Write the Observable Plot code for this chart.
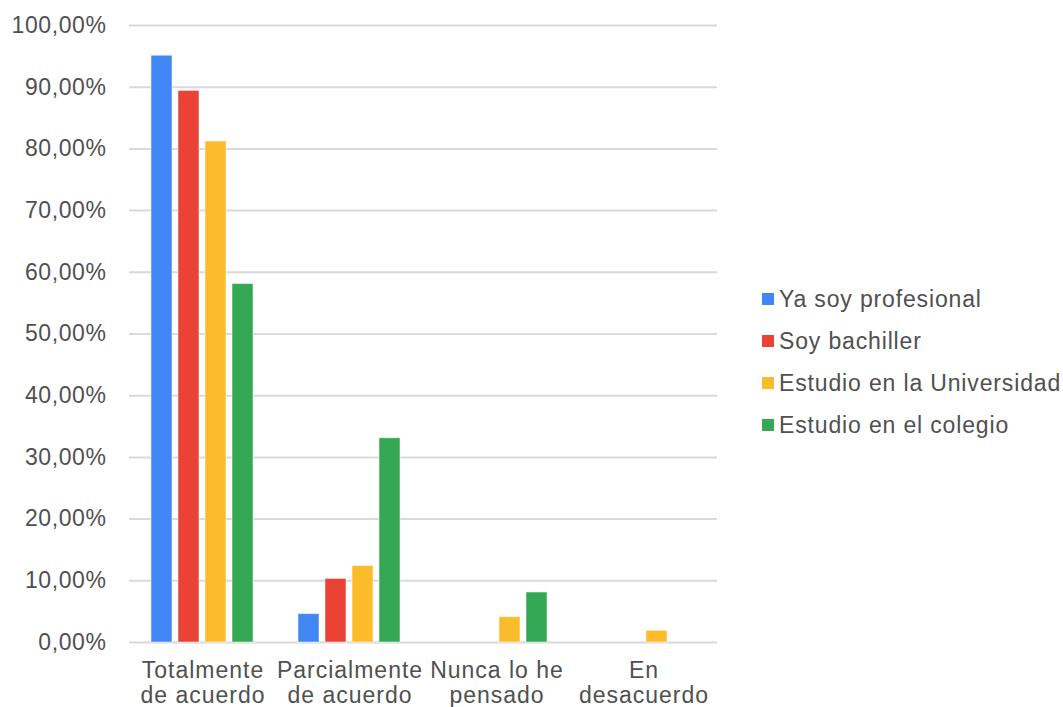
<!DOCTYPE html>
<html>
<head>
<meta charset="utf-8">
<script src="https://cdn.jsdelivr.net/npm/d3@7"></script>
<script src="https://cdn.jsdelivr.net/npm/@observablehq/plot@0.6"></script>
<style>
  html, body { margin: 0; padding: 0; background: #fff; }
  #wrap { position: relative; width: 1063px; height: 707px; font-family: "Liberation Sans", Arial, sans-serif; }
  #legend { position: absolute; left: 762px; top: 278px; color: #505050; font-size: 23px; letter-spacing: 0.85px; }
  #legend .item { display: flex; align-items: center; height: 42px; white-space: nowrap; }
  #legend .sw { width: 12px; height: 12px; margin-right: 5px; flex: none; }
  .fxaxis text { letter-spacing: 1px; }
</style>
</head>
<body>
<div id="wrap"><div id="chart"></div><div id="legend"></div></div>
<script>
const categories = ["Totalmente\nde acuerdo", "Parcialmente\nde acuerdo", "Nunca lo he\npensado", "En\ndesacuerdo"];
const series = ["Ya soy profesional", "Soy bachiller", "Estudio en la Universidad", "Estudio en el colegio"];
const colors = ["#4285F4", "#EA4335", "#FBBC2C", "#34A853"];
const profesional = [0.951, 0.046, 0, 0];
const bachiller = [0.894, 0.103, 0, 0];
const universidad = [0.812, 0.124, 0.041, 0.019];
const colegio = [0.581, 0.331, 0.081, 0];
const yTicks = [0, 0.1, 0.2, 0.3, 0.4, 0.5, 0.6, 0.7, 0.8, 0.9, 1.0];

const valuesBySeries = [profesional, bachiller, universidad, colegio];
const table = [];
series.forEach((s, i) => categories.forEach((c, j) => {
  const v = valuesBySeries[i][j];
  if (v > 0) table.push({category: c, series: s, value: v});
}));

const fmt = d => (d * 100).toFixed(2).replace(".", ",") + "%";

const chart = Plot.plot({
  width: 740,
  height: 707,
  marginLeft: 129,
  marginRight: 23,
  marginTop: 25,
  marginBottom: 65,
  style: {fontFamily: "Liberation Sans, Arial, sans-serif", fontSize: "23px", color: "#505050", background: "#fff", letterSpacing: "0.6px"},
  fx: {domain: categories, padding: 0, label: null},
  x: {domain: series, paddingInner: 0.22, paddingOuter: 0.83, axis: null},
  y: {domain: [0, 1], label: null},
  color: {domain: series, range: colors},
  marks: [
    Plot.ruleY(yTicks, {stroke: "#d9d9d9", strokeWidth: 2}),
    Plot.barY(table, {fx: "category", x: "series", y: "value", fill: "series", stroke: "#ffffff", strokeOpacity: 0.5, strokeWidth: 1}),
    Plot.axisY({anchor: "left", ticks: yTicks, tickFormat: fmt, tickSize: 0, tickPadding: 23, label: null}),
    Plot.axisFx({anchor: "bottom", tickSize: 0, tickPadding: 18, label: null, fontSize: 23, lineHeight: 1.09, className: "fxaxis"})
  ]
});
document.getElementById("chart").appendChild(chart);

const legend = document.getElementById("legend");
series.forEach((s, i) => {
  const item = document.createElement("div");
  item.className = "item";
  const sw = document.createElement("span");
  sw.className = "sw";
  sw.style.background = colors[i];
  const t = document.createElement("span");
  t.textContent = s;
  item.appendChild(sw);
  item.appendChild(t);
  legend.appendChild(item);
});
</script>
</body>
</html>
